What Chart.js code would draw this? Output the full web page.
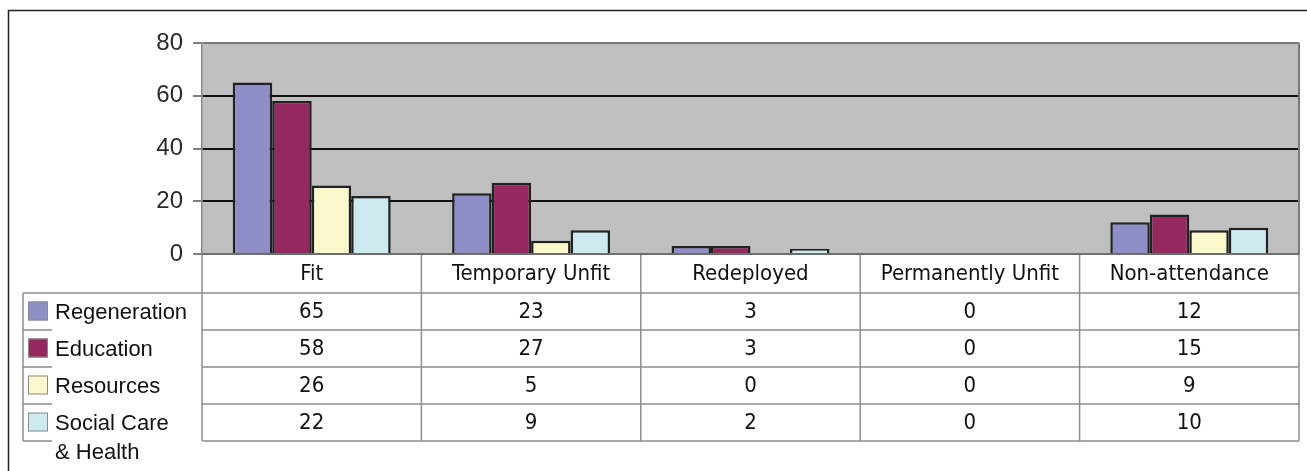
<!DOCTYPE html>
<html><head><meta charset="utf-8">
<script src="https://cdn.jsdelivr.net/npm/chart.js@4"></script>
<style>html,body{margin:0;padding:0;background:#fff;}canvas{display:block;}</style>
</head><body>
<canvas id="c" width="1307" height="471"></canvas>
<script>
const categories = ['Fit','Temporary Unfit','Redeployed','Permanently Unfit','Non-attendance'];
const seriesNames = ['Regeneration','Education','Resources','Social Care & Health'];
const regeneration = [65,23,3,0,12];
const education = [58,27,3,0,15];
const resources = [26,5,0,0,9];
const socialCare = [22,9,2,0,10];
const yTicks = [0,20,40,60,80];

const seriesValues = [regeneration, education, resources, socialCare];
const seriesColors = ['#8f8fc7','#93295f','#fbf8cb','#cdeaf1'];

const HEAD_H = 39, ROW_H = 37, LEG_L = 23;

function line(ctx,x1,y1,x2,y2){ctx.beginPath();ctx.moveTo(x1,y1);ctx.lineTo(x2,y2);ctx.stroke();}

const tablePlugin = {
  id:'tbl',
  beforeDraw(chart){
    const {ctx, chartArea:a} = chart;
    ctx.save();
    ctx.fillStyle='#fff'; ctx.fillRect(0,0,chart.width,chart.height);
    ctx.fillStyle='#c0c0c0'; ctx.fillRect(a.left,a.top,a.right-a.left,a.bottom-a.top);
    ctx.restore();
  },
  afterDraw(chart){
    const {ctx, chartArea:a} = chart;
    const xs = chart.scales.x;
    const L=a.left, R=a.right, T=a.bottom;
    const n = categories.length;
    const colW=(R-L)/n;
    const rows = seriesValues.length;
    ctx.save();
    ctx.strokeStyle='#7a7a7a'; ctx.lineWidth=2;
    line(ctx,R,a.top,R,a.bottom);
    ctx.strokeStyle='#8c8c8c'; ctx.lineWidth=1.5;
    for(let i=0;i<=n;i++){const x=L+i*colW; line(ctx,x,T,x,T+HEAD_H+ROW_H*rows);}
    for(let r=0;r<=rows;r++){const y=T+HEAD_H+r*ROW_H; line(ctx,L,y,R,y);}
    line(ctx,LEG_L,T+HEAD_H,LEG_L,T+HEAD_H+rows*ROW_H);
    line(ctx,LEG_L,T+HEAD_H,L,T+HEAD_H);
    for(let r=1;r<=rows;r++){const y=T+HEAD_H+r*ROW_H; line(ctx,LEG_L,y,LEG_L+29,y);}
    ctx.strokeStyle='#6e6e6e'; ctx.lineWidth=2;
    line(ctx,L,T,R,T);
    ctx.fillStyle='#111';
    ctx.textAlign='center'; ctx.textBaseline='middle';
    ctx.font='22px "DejaVu Sans Condensed"';
    for(let i=0;i<n;i++){
      const cx=xs.getPixelForValue(i);
      ctx.fillText(categories[i],cx,T+HEAD_H/2+1);
      for(let s=0;s<rows;s++){
        ctx.fillText(String(seriesValues[s][i]),cx,T+HEAD_H+s*ROW_H+ROW_H/2+1);
      }
    }
    ctx.textAlign='left';
    ctx.font='22px "Liberation Sans"';
    for(let s=0;s<rows;s++){
      const cy=T+HEAD_H+s*ROW_H+ROW_H/2;
      ctx.fillStyle=seriesColors[s];
      ctx.fillRect(28,cy-10,20,19);
      ctx.strokeStyle='#8a8a8a'; ctx.lineWidth=1;
      ctx.strokeRect(28.5,cy-9.5,19,18);
      const words=seriesNames[s].split(' ');
      const linesOut=[]; let cur='';
      for(const w of words){
        const t=cur?cur+' '+w:w;
        if(ctx.measureText(t).width>125 && cur){linesOut.push(cur);cur=w;} else cur=t;
      }
      linesOut.push(cur);
      ctx.fillStyle='#111';
      linesOut.forEach((t,k)=>ctx.fillText(t,55,cy+1+k*29));
    }
    ctx.strokeStyle='#222'; ctx.lineWidth=1.5;
    ctx.beginPath(); ctx.moveTo(8.5,471); ctx.lineTo(8.5,10.5); ctx.lineTo(1307,10.5); ctx.stroke();
    ctx.restore();
  }
};

new Chart(document.getElementById('c'), {
  type:'bar',
  data:{
    labels:categories,
    datasets: seriesNames.map((nm,i)=>({
      label:nm, data:seriesValues[i], backgroundColor:seriesColors[i],
      borderColor:'#222', borderWidth:2.5,
      categoryPercentage:0.72, barPercentage:1.0
    }))
  },
  options:{
    responsive:false, animation:false,
    layout:{padding:{left:0,top:43,right:8,bottom:0}},
    plugins:{legend:{display:false},tooltip:{enabled:false}},
    scales:{
      x:{
        ticks:{display:false}, grid:{display:false}, border:{display:false},
        afterFit(s){s.height=217;}
      },
      y:{
        min:0,max:80,
        afterBuildTicks(s){s.ticks=yTicks.map(v=>({value:v}));},
        afterFit(s){s.width=202;},
        ticks:{color:'#2a2a2a',font:{family:'Liberation Sans',size:24},padding:10},
        grid:{
          color:(c)=>(c.tick && (c.tick.value===0||c.tick.value===80))?'#7a7a7a':'#111',
          lineWidth:2, tickLength:9, tickColor:'#555', tickWidth:1.5
        },
        border:{color:'#8a8a8a',width:1.5}
      }
    }
  },
  plugins:[tablePlugin]
});
</script>
</body></html>
